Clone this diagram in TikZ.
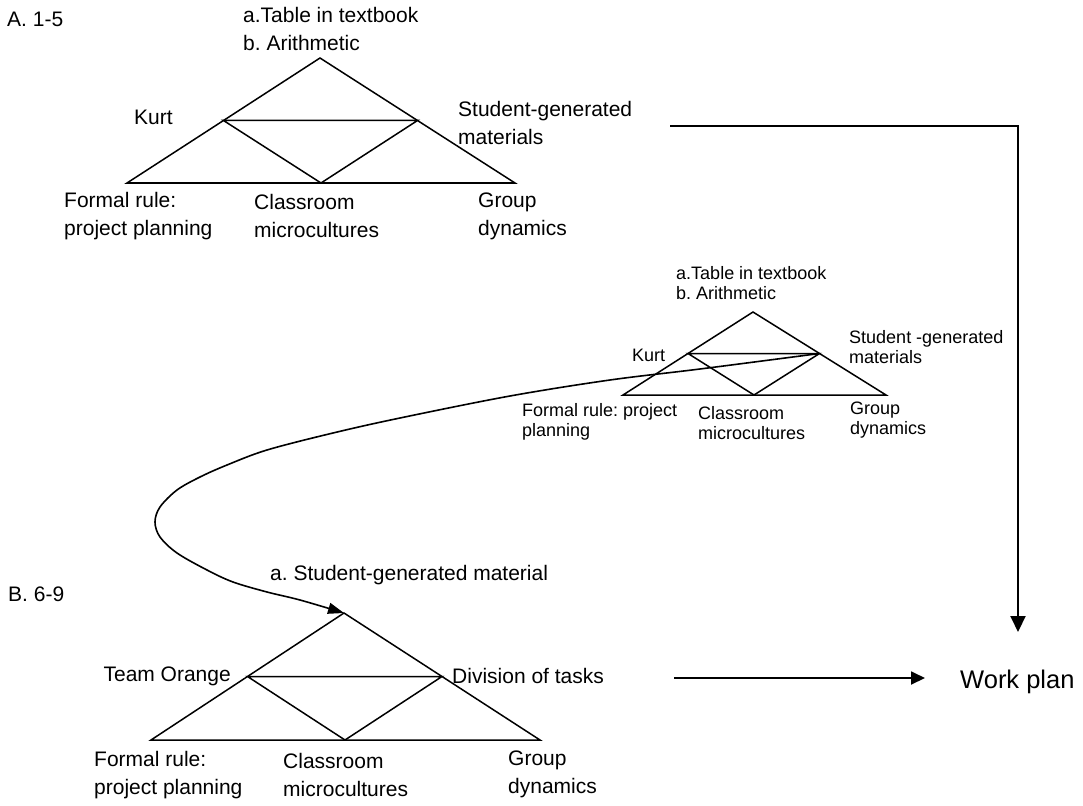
\documentclass[tikz,border=0pt]{standalone}
\usepackage{fontspec}
\setmainfont{Liberation Sans}
\usetikzlibrary{arrows.meta}
\frenchspacing

\tikzset{
  tri/.style={line width=1.5pt, line join=miter},
  lbl/.style={font=\fontsize{21}{28}\selectfont, align=left, inner sep=0pt, anchor=west},
  lblsmall/.style={font=\fontsize{18}{20}\selectfont, align=left, inner sep=0pt, anchor=west},
  route/.style={line width=2pt, -{Triangle[width=15pt,length=16pt]}},
  swoop/.style={line width=1.6pt, -{Triangle[width=11pt,length=16pt]}}
}

\begin{document}
\begin{tikzpicture}[x=1pt,y=-1pt]
  \useasboundingbox (0,0) rectangle (1083,805);

  % triangle A (1-5)
  \path
  (320,58) coordinate(at)
  (127,183) coordinate(al)
  (515,183) coordinate(ar)
  (223.5,120.5) coordinate(aml)
  (417.5,120.5) coordinate(amr)
  (321,183) coordinate(amb)
  ;
  \draw[tri] (at) -- (al) -- (ar) -- cycle;
  \draw[tri] (aml) -- (amr) -- (amb) -- cycle;

  \node[lbl] (alabel) at (7,19) {A. 1-5};
  \node[lbl] (atop) at (243,29) {a.Table in textbook\\b. Arithmetic};
  \node[lbl] (akurt) at (134,117) {Kurt};
  \node[lbl] (astud) at (458,123) {Student-generated\\materials};
  \node[lbl] (arule) at (64,216) {Formal rule:\\project planning};
  \node[lbl] (aclass) at (254,216) {Classroom\\microcultures};
  \node[lbl] (agroup) at (478,216) {Group\\dynamics};

  % small triangle
  \path
  (753,312) coordinate(st)
  (623,395) coordinate(sl)
  (886,395) coordinate(sr)
  (688,353.5) coordinate(sml)
  (819.5,353.5) coordinate(smr)
  (754,395) coordinate(smb)
  ;
  \draw[tri] (st) -- (sl) -- (sr) -- cycle;
  \draw[tri] (sml) -- (smr) -- (smb) -- cycle;

  \node[lblsmall] (stop) at (676,283) {a.Table in textbook\\b. Arithmetic};
  \node[lblsmall] (skurt) at (632,355) {Kurt};
  \node[lblsmall] (sstud) at (849,347) {Student -generated\\materials};
  \node[lblsmall] (srule) at (522,422) {Formal rule: project\\planning};
  \node[lblsmall] (sclass) at (698,423) {Classroom\\microcultures};
  \node[lblsmall] (sgroup) at (850,420) {Group\\dynamics};

  % triangle B (6-9)
  \path
  (344,613) coordinate(bt)
  (151,740) coordinate(bl)
  (540,740) coordinate(br)
  (247.5,676.5) coordinate(bml)
  (442,676.5) coordinate(bmr)
  (345,740) coordinate(bmb)
  ;
  \draw[tri] (bt) -- (bl) -- (br) -- cycle;
  \draw[tri] (bml) -- (bmr) -- (bmb) -- cycle;

  \node[lbl] (blabel) at (8,594) {B. 6-9};
  \node[lbl] (btop) at (270,575) {a. Student-generated material};
  \node[lbl, anchor=east] (borange) at (231,676) {Team Orange};
  \node[lbl] (btasks) at (452,676) {Division of tasks};
  \node[lbl] (brule) at (94,775) {Formal rule:\\project planning};
  \node[lbl] (bclass) at (283,775) {Classroom\\microcultures};
  \node[lbl] (bgroup) at (508,774) {Group\\dynamics};

  % outcome
  \node[lbl, font=\fontsize{25.5}{30}\selectfont] (plan) at (960,682) {Work plan};
  \coordinate (rstart) at (670,126);
  \coordinate (rend) at (1018,632);
  \coordinate (lstart) at (674,678);
  \coordinate (lend) at (925,678);

  \draw[route] (rstart) -| (rend);
  \draw[route, line width=1.8pt, -{Triangle[width=13pt,length=14pt]}] (lstart) -- (lend);
  \draw[swoop] plot[smooth, tension=0.55] coordinates {
    (smr) (700,369) (610,380) (510,396) (400,418) (333,433) (267,450)
    (227,465) (200,477) (177,490) (160,507) (155,522) (160,537) (177,553)
    (207,570) (233,582) (267,592) (300,600) (bt)};
\end{tikzpicture}
\end{document}
